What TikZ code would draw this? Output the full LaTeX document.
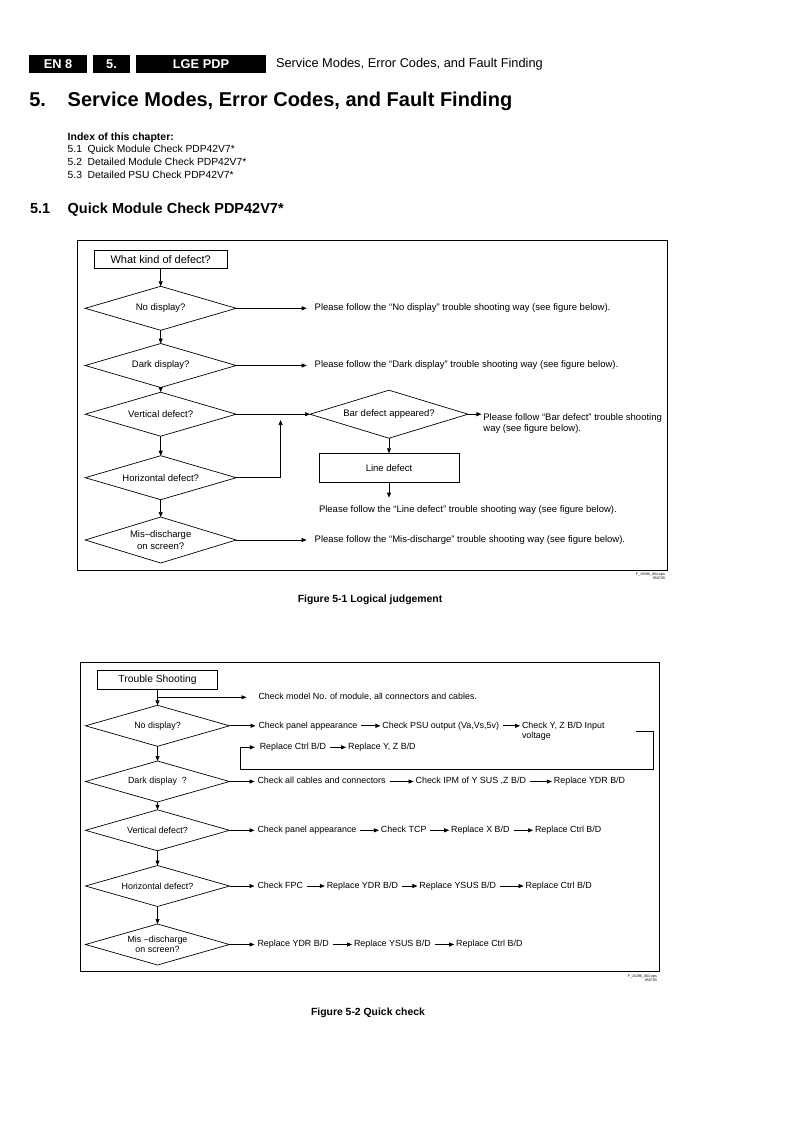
\documentclass[tikz,border=0pt]{standalone}
\usepackage{fontspec}
\setmainfont{Liberation Sans}
\usepackage{tikz}
\usetikzlibrary{calc,shapes,arrows.meta,positioning}

\begin{document}
\begin{tikzpicture}[x=1pt,y=1pt,
	every node/.style={inner sep=0pt,outer sep=0pt},
	arr/.style={-{Triangle[length=5pt,width=4pt]},line width=0.7pt},
	lnk/.style={arr,shorten <=4pt,shorten >=2pt},
	dia/.style={draw,diamond,aspect=3.4,line width=0.7pt,align=center},
	box/.style={draw,rectangle,line width=0.7pt},
	hbox/.style={fill=black,text=white,font=\fontsize{12.8}{14}\selectfont\bfseries,minimum height=18pt},
	ta/.style={font=\fontsize{9.5}{11.6}\selectfont,anchor=west},
	tb/.style={font=\fontsize{8.9}{10.6}\selectfont,text height=6.6pt,text depth=1.9pt},
	capt/.style={font=\fontsize{10.4}{12}\selectfont\bfseries}]
	\useasboundingbox (0,0) rectangle (793,-1122);
	
	\node[hbox,minimum width=58pt] (en) at (58,-64) {EN 8};
	\node[hbox,minimum width=37pt] (ch) at (111.5,-64) {5.};
	\node[hbox,minimum width=130pt] (lge) at (201,-64) {LGE PDP};
	\node[anchor=west,font=\fontsize{12.8}{14}\selectfont] (hdr) at (276,-64) {Service Modes, Error Codes, and Fault Finding};
	
	\node[anchor=base west,font=\fontsize{20}{24}\selectfont\bfseries] (tnum) at (29.3,-106.5) {5.};
	\node[anchor=base west,font=\fontsize{20}{24}\selectfont\bfseries] (ttl) at (67.7,-106.5) {Service Modes, Error Codes, and Fault Finding};
	
	\node[anchor=base west,font=\fontsize{10.5}{12}\selectfont\bfseries] (idx) at (67.7,-140.5) {Index of this chapter:};
	\foreach \n/\t/\y in {5.1/Quick Module Check PDP42V7*/152.8,5.2/Detailed Module Check PDP42V7*/165.5,5.3/Detailed PSU Check PDP42V7*/178.8}
	{
		\node[anchor=base west,font=\fontsize{10.3}{12}\selectfont] at (67.7,-\y) {\n};
		\node[anchor=base west,font=\fontsize{10.3}{12}\selectfont] at (87.7,-\y) {\t};
	}
	
	\node[anchor=base west,font=\fontsize{14.5}{17}\selectfont\bfseries] (snum) at (30,-213.5) {5.1};
	\node[anchor=base west,font=\fontsize{14.5}{17}\selectfont\bfseries] (sttl) at (67.7,-213.5) {Quick Module Check PDP42V7*};
	
	% Figure 5-1
	\draw[line width=0.8pt] (77,-240) rectangle (667,-570);
	\node[box,minimum width=133pt,minimum height=18pt,font=\fontsize{11}{13}\selectfont] (kind) at (160.7,-259.5) {What kind of defect?};
	\begin{scope}[every node/.append style={font=\fontsize{9.5}{11.6}\selectfont}]
		\node[dia,minimum width=151pt,minimum height=44pt] (nd) at (160.7,-308.3) {No display?};
		\node[dia,minimum width=151pt,minimum height=44pt] (dd) at (160.7,-365.5) {Dark display?};
		\node[dia,minimum width=151pt,minimum height=44pt] (vd) at (160.7,-414.2) {Vertical defect?};
		\node[dia,minimum width=151pt,minimum height=44pt] (hd) at (160.7,-477.7) {Horizontal defect?};
		\node[dia,minimum width=151pt,minimum height=46pt] (md) at (160.7,-540) {Mis–discharge\\on screen?};
		\node[dia,minimum width=158pt,minimum height=48pt] (bd) at (389,-414.2) {Bar defect appeared?};
		\node[box,minimum width=140pt,minimum height=29pt] (lb) at (389,-467.8) {Line defect};
	\end{scope}
	\foreach \a/\b in {kind/nd,nd/dd,dd/vd,vd/hd,hd/md,vd/bd,bd/lb}
	\draw[arr] (\a) -- (\b);
	
	\node[ta] (nt) at (314.7,-308.3) {Please follow the “No display” trouble shooting way (see figure below).};
	\node[ta] (dt) at (314.7,-365.5) {Please follow the “Dark display” trouble shooting way (see figure below).};
	\node[ta,anchor=base west,align=left] (bt) at (483.4,-431.7) {Please follow “Bar defect” trouble shooting\\way (see figure below).};
	\node[ta] (lt) at (319,-510) {Please follow the “Line defect” trouble shooting way (see figure below).};
	\node[ta] (mt) at (314.7,-540) {Please follow the “Mis-discharge” trouble shooting way (see figure below).};
	\foreach \a/\b in {nd/nt,dd/dt,md/mt}
	\draw[arr,shorten >=8pt] (\a) -- (\b);
	\draw[arr,shorten >=2pt] (bd.east) -- (bd.east -| bt.west);
	\draw[arr,shorten >=8pt] (lb) -- (lb |- lt.north);
	\coordinate (hm) at (280.6,-420);
	\draw[arr] (hd) -| (hm);
	
	\node[anchor=north east,align=right,font=\fontsize{3.6}{4.2}\selectfont] (f1) at (665,-573) {F\_15590\_064.eps\\050705};
	\node[capt] (cap1) at (370,-600) {Figure 5-1 Logical judgement};
	
	% Figure 5-2
	\draw[line width=0.8pt] (80.7,-662.7) rectangle (659,-971.7);
	\node[box,minimum width=120pt,minimum height=18.6pt,font=\fontsize{10.3}{12}\selectfont] (ts) at (157.5,-680) {Trouble Shooting};
	\begin{scope}[every node/.append style={font=\fontsize{8.9}{10.6}\selectfont}]
		\node[dia,minimum width=144pt,minimum height=41pt] (n2) at (157.5,-725.8) {No display?};
		\node[dia,minimum width=144pt,minimum height=41pt] (k2) at (157.5,-781.5) {Dark display\ \ ?};
		\node[dia,minimum width=144pt,minimum height=41pt] (v2) at (157.5,-830.3) {Vertical defect?};
		\node[dia,minimum width=144pt,minimum height=41pt] (h2) at (157.5,-886) {Horizontal defect?};
		\node[dia,minimum width=144pt,minimum height=41pt] (m2) at (157.5,-944.5) {Mis –discharge\\on screen?};
	\end{scope}
	\foreach \a/\b in {ts/n2,n2/k2,k2/v2,v2/h2,h2/m2}
	\draw[arr] (\a) -- (\b);
	
	\node[tb,anchor=west] (mdl) at (258.5,-697.3) {Check model No. of module, all connectors and cables.};
	\draw[arr,shorten >=12pt] (ts.south |- mdl.west) -- (mdl.west);
	
	\node[tb,anchor=west] (a1) at (258.5,-725.8) {Check panel appearance};
	\node[tb,right=25pt of a1] (a2) {Check PSU output (Va,Vs,5v)};
	\node[font=\fontsize{8.9}{10.6}\selectfont,anchor=north west,align=left] (a3) at ([xshift=23pt]a2.north east) {Check Y, Z B/D Input\\voltage};
	\node[tb,anchor=west] (r1) at (259.8,-747.3) {Replace Ctrl B/D};
	\node[tb,right=22pt of r1] (r2) {Replace Y, Z B/D};
	\coordinate (lpR) at (653,-769.3);
	\coordinate (lpL) at (240.3,-769.3);
	\draw[arr,shorten >=5pt] ([xshift=32pt]a3.east) -| (lpR) -- (lpL) |- (r1.west);
	\draw[lnk] (a2.east) -- (a2.east -| a3.west);
	
	\node[tb,anchor=west] (b1) at (257.5,-781.5) {Check all cables and connectors};
	\node[tb,right=30pt of b1] (b2) {Check IPM of Y SUS ,Z B/D};
	\node[tb,right=28pt of b2] (b3) {Replace YDR B/D};
	
	\node[tb,anchor=west] (c1) at (257.5,-830.3) {Check panel appearance};
	\node[tb,right=24.5pt of c1] (c2) {Check TCP};
	\node[tb,right=24.7pt of c2] (c3) {Replace X B/D};
	\node[tb,right=25.5pt of c3] (c4) {Replace Ctrl B/D};
	
	\node[tb,anchor=west] (e1) at (257.5,-886) {Check FPC};
	\node[tb,right=23.8pt of e1] (e2) {Replace YDR B/D};
	\node[tb,right=21.4pt of e2] (e3) {Replace YSUS B/D};
	\node[tb,right=29.5pt of e3] (e4) {Replace Ctrl B/D};
	
	\node[tb,anchor=west] (g1) at (257.5,-944.5) {Replace YDR B/D};
	\node[tb,right=25.3pt of g1] (g2) {Replace YSUS B/D};
	\node[tb,right=25.5pt of g2] (g3) {Replace Ctrl B/D};
	
	\foreach \d/\t in {n2/a1,k2/b1,v2/c1,h2/e1,m2/g1}
	\draw[arr,shorten >=3pt] (\d) -- (\t);
	\foreach \a/\b in {a1/a2,r1/r2,b1/b2,b2/b3,c1/c2,c2/c3,c3/c4,e1/e2,e2/e3,e3/e4,g1/g2,g2/g3}
	\draw[lnk] (\a) -- (\b);
	
	\node[anchor=north east,align=right,font=\fontsize{3.6}{4.2}\selectfont] (f2) at (657,-975) {F\_15296\_063.eps\\050705};
	\node[capt] (cap2) at (368,-1012.7) {Figure 5-2 Quick check};
\end{tikzpicture}
\end{document}
